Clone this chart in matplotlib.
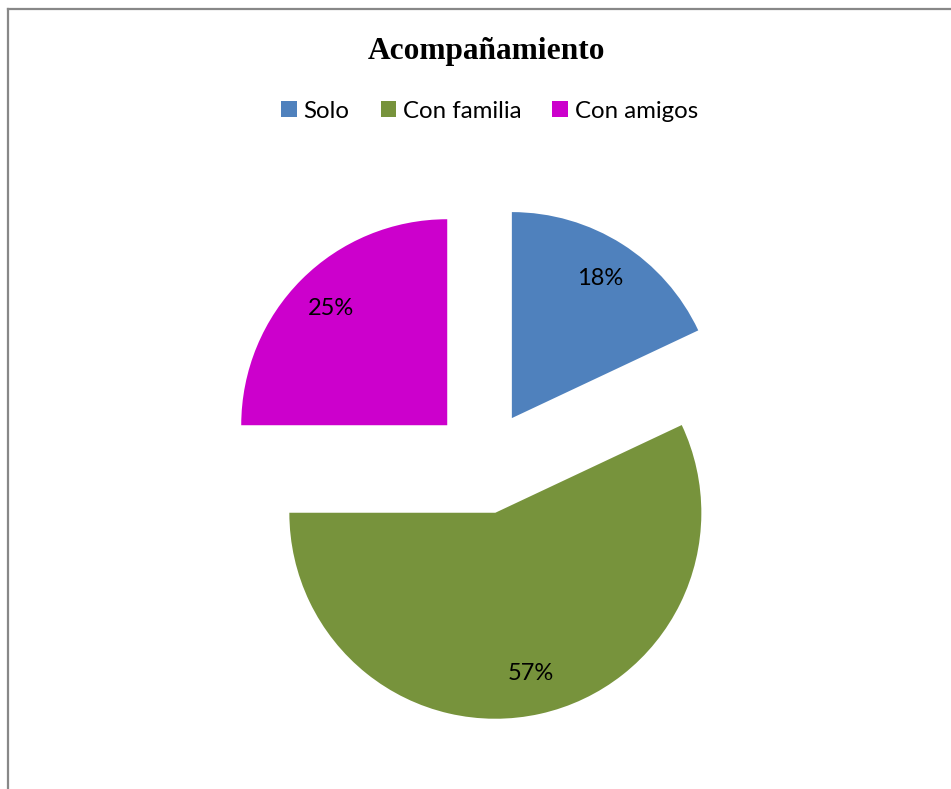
import matplotlib
matplotlib.use("Agg")
import matplotlib.pyplot as plt
from matplotlib.lines import Line2D

categories = ["Solo", "Con familia", "Con amigos"]
values = [18, 57, 25]
colors = ["#4F81BD", "#77933C", "#CC00CC"]
title = "Acompañamiento"

W, H = 951, 789
fig = plt.figure(figsize=(W / 100, H / 100), dpi=100)
fig.patch.set_facecolor("white")

ax = fig.add_axes([0, 0, 1, 1])
wedges, texts, autotexts = ax.pie(
    values,
    colors=colors,
    center=(484, H - 462),
    radius=206,
    explode=[52] * len(values),
    startangle=90,
    counterclock=False,
    autopct="%1.0f%%",
    pctdistance=0.8,
    wedgeprops=dict(linewidth=0),
    textprops=dict(fontsize=17, family="Lato", color="black"),
)
ax.set_xlim(0, W)
ax.set_ylim(0, H)
ax.set_aspect("equal")
ax.axis("off")

fig.text(486 / W, 1 - 59 / H, title, ha="center", va="baseline",
         fontsize=22.6, fontweight="bold", family="Liberation Serif")

leg = fig.legend(wedges, categories, loc="center", bbox_to_anchor=(489.5 / W, 1 - 111 / H),
                 ncol=3, frameon=False, prop=dict(family="Lato", size=17.3),
                 handlelength=0.64, handleheight=0.64, handletextpad=0.28,
                 columnspacing=1.3, borderpad=0, borderaxespad=0)

# outer frame (left and top edges visible)
fig.add_artist(Line2D([8 / W, 8 / W], [0, 1 - 8.5 / H], transform=fig.transFigure,
                      color="#888888", lw=1.6))
fig.add_artist(Line2D([8 / W, 1], [1 - 8.5 / H, 1 - 8.5 / H], transform=fig.transFigure,
                      color="#888888", lw=1.6))

fig.savefig("out.png", dpi=100, facecolor="white")
